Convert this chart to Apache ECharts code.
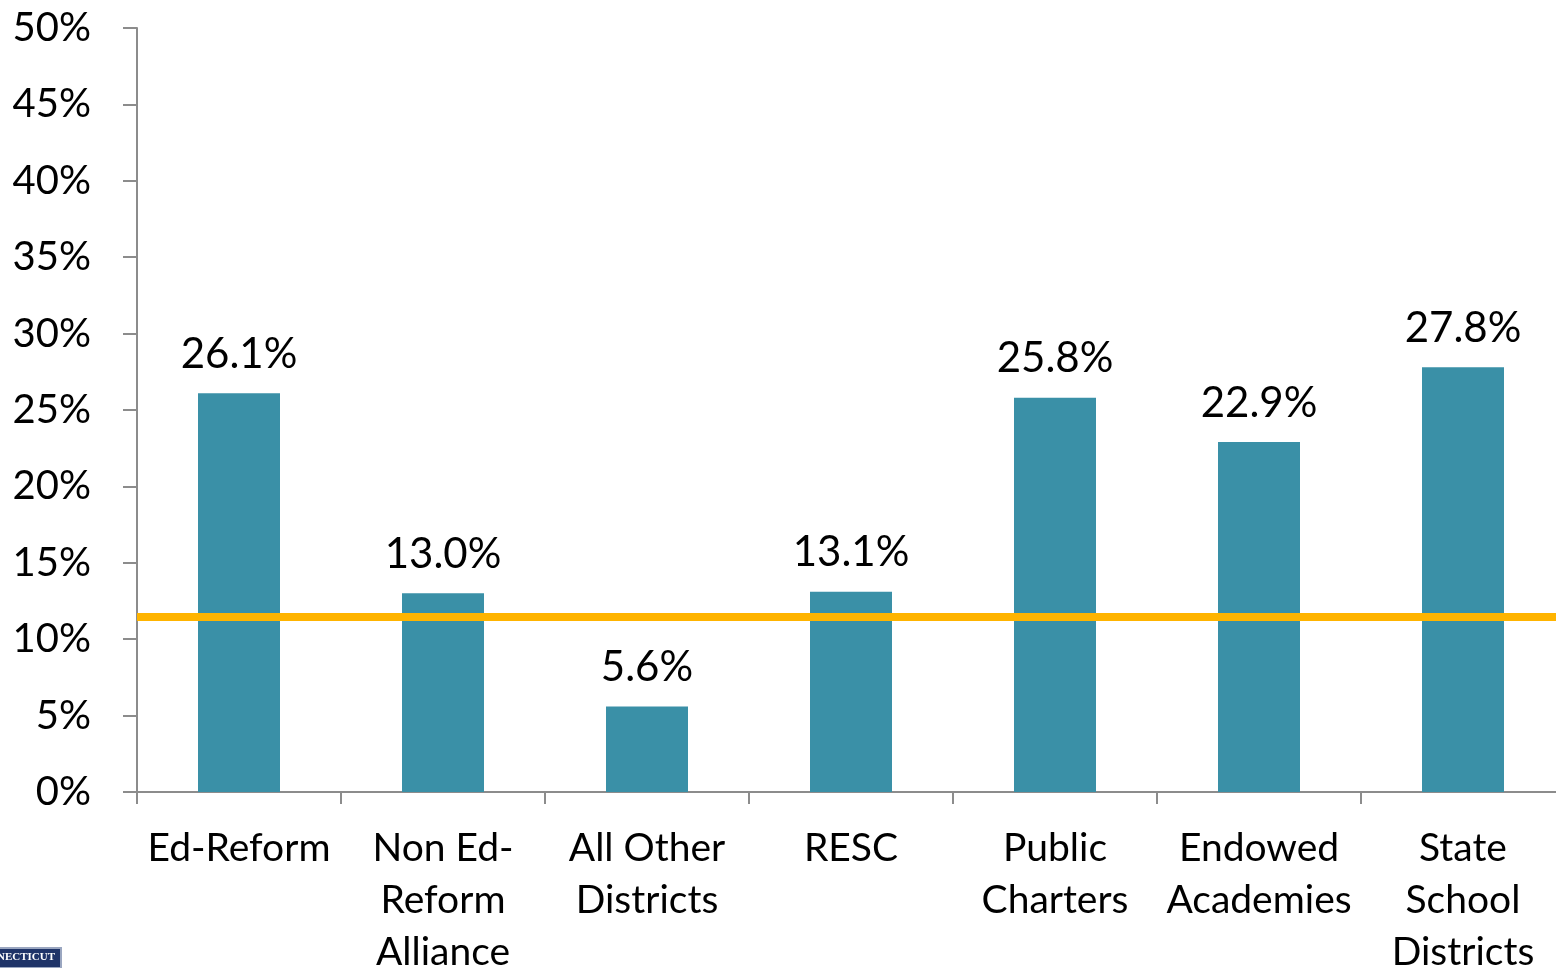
<!DOCTYPE html>
<html>
<head>
<meta charset="utf-8">
<script src="https://cdn.jsdelivr.net/npm/echarts@6/dist/echarts.min.js"></script>
<style>
  html, body { margin: 0; padding: 0; background: #fff; }
  #chart { width: 1556px; height: 968px; }
</style>
</head>
<body>
<div id="chart"></div>
<script>
var categories = ['Ed-Reform', 'Non Ed-\nReform\nAlliance', 'All Other\nDistricts', 'RESC',
                  'Public\nCharters', 'Endowed\nAcademies', 'State\nSchool\nDistricts'];
var shares = [26.1, 13.0, 5.6, 13.1, 25.8, 22.9, 27.8];
var benchmark = 11.5;

var font = 'Lato, "Open Sans", sans-serif';
var axisGrey = '#8c8c8c';

var chart = echarts.init(document.getElementById('chart'));
chart.setOption({
    animation: false,
    grid: { left: 137, top: 28, bottom: 176, width: 1428, outerBoundsMode: 'none', containLabel: false },
    xAxis: {
        type: 'category',
        data: categories,
        axisLine: { lineStyle: { color: axisGrey, width: 2 } },
        axisTick: { show: true, length: 12, inside: false, lineStyle: { color: axisGrey, width: 2 } },
        axisLabel: {
            color: '#000', fontFamily: font, fontSize: 39, lineHeight: 52,
            margin: 30, interval: 0
        }
    },
    yAxis: {
        type: 'value',
        min: 0, max: 50, interval: 5,
        axisLine: { show: true, lineStyle: { color: axisGrey, width: 2 } },
        axisTick: { show: true, length: 14, lineStyle: { color: axisGrey, width: 2 } },
        splitLine: { show: false },
        axisLabel: {
            color: '#000', fontFamily: font, fontSize: 40, margin: 46,
            formatter: function (v) { return v + '%'; }
        }
    },
    series: [{
        type: 'bar',
        data: shares,
        barWidth: 82,
        itemStyle: { color: '#3a90a7' },
        label: {
            show: true, position: 'top', distance: 18,
            color: '#000', fontFamily: font, fontSize: 42,
            formatter: function (p) { return p.value.toFixed(1) + '%'; }
        },
        markLine: {
            silent: true,
            symbol: 'none',
            label: { show: false },
            lineStyle: { color: '#ffb400', width: 8, type: 'solid' },
            data: [{ yAxis: benchmark }]
        }
    }],
    graphic: [{
        type: 'group', left: -60, top: 947,
        children: [
            { type: 'rect', shape: { x: 0, y: 0, width: 120, height: 20 },
              style: { fill: '#1f3468', stroke: '#9aa6c0', lineWidth: 2 } },
            { type: 'text', x: 114, y: 4,
              style: { text: 'CONNECTICUT', fill: '#fff', align: 'right',
                       font: 'bold 11px "Liberation Serif", serif' } }
        ]
    }]
});
</script>
</body>
</html>
